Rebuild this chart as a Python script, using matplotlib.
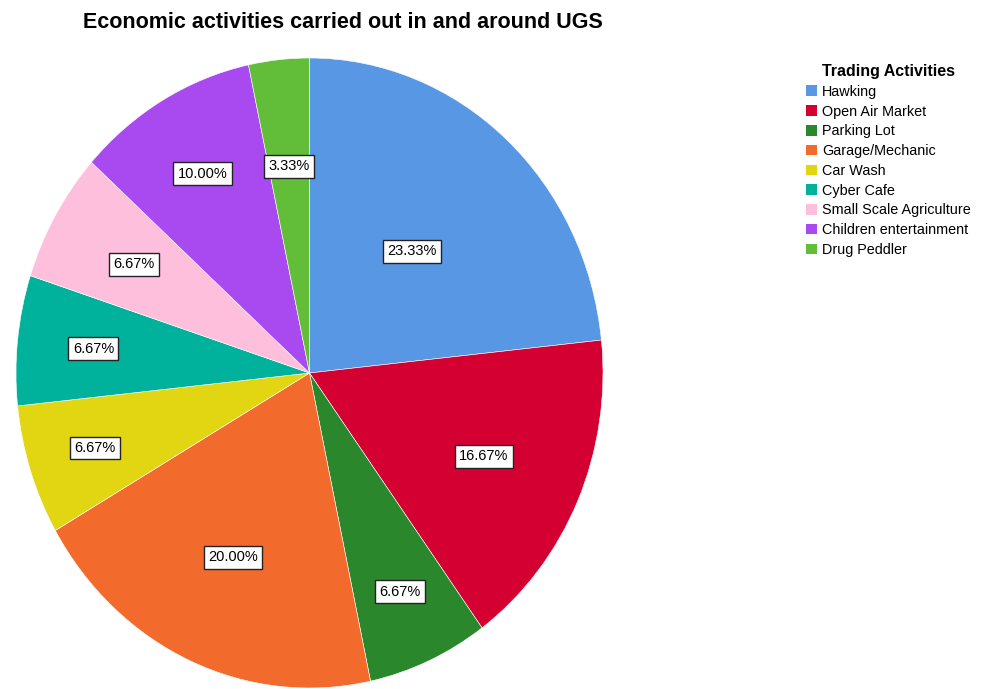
import numpy as np
import matplotlib
matplotlib.use("Agg")
import matplotlib.pyplot as plt

plt.rcParams["font.family"] = ["Liberation Sans", "DejaVu Sans"]

# ==========================================
# DATA
# ==========================================

activities = [
    "Hawking",
    "Open Air Market",
    "Parking Lot",
    "Garage/Mechanic",
    "Car Wash",
    "Cyber Cafe",
    "Small Scale Agriculture",
    "Children entertainment",
    "Drug Peddler",
]

counts = [7, 5, 2, 6, 2, 2, 2, 3, 1]

colors = [
    "#5797E3",
    "#D50032",
    "#2A872C",
    "#F26A2C",
    "#E2D512",
    "#00B29B",
    "#FEBFDD",
    "#A94AF0",
    "#62BE39",
]

# how far out each percentage box sits (fraction of radius)
label_radius = [0.52, 0.65, 0.76, 0.64, 0.77, 0.74, 0.69, 0.73, 0.66]

# ==========================================
# FIGURE
# ==========================================

W, H = 983, 689
fig = plt.figure(figsize=(W / 100, H / 100), dpi=100)

# pie occupies an ellipse: x 16..603, y 58..688 px
ax = fig.add_axes([
    16 / W,
    1 - 688 / H,
    (603 - 16) / W,
    (688 - 58) / H,
])

wedges, _ = ax.pie(
    counts,
    colors=colors,
    startangle=90,
    counterclock=False,
    wedgeprops=dict(linewidth=0.4, edgecolor="white"),
)

ax.set_aspect("auto")
ax.set_xlim(-1, 1)
ax.set_ylim(-1, 1)
ax.axis("off")

total = float(sum(counts))

for w, c, r in zip(wedges, counts, label_radius):
    mid = np.deg2rad((w.theta1 + w.theta2) / 2)
    ax.text(
        r * np.cos(mid),
        r * np.sin(mid),
        "%.2f%%" % (100 * c / total),
        ha="center",
        va="center",
        fontsize=10.5,
        bbox=dict(
            boxstyle="square,pad=0.3",
            facecolor="white",
            edgecolor="#222222",
            linewidth=1.0,
        ),
    )

# ==========================================
# TITLE
# ==========================================

fig.text(
    343 / W,
    1 - 22 / H,
    "Economic activities carried out in and around UGS",
    ha="center",
    va="center",
    fontsize=15.5,
    fontweight="bold",
)

# ==========================================
# LEGEND
# ==========================================

leg = fig.legend(
    wedges,
    activities,
    loc="upper left",
    bbox_to_anchor=(806 / W, 1 - 64 / H),
    frameon=False,
    fontsize=10.4,
    title="Trading Activities",
    title_fontproperties=dict(weight="bold", size=11.5),
    handlelength=0.75,
    handleheight=0.75,
    handletextpad=0.35,
    labelspacing=0.4,
    borderpad=0,
    borderaxespad=0,
)

for h in leg.legend_handles:
    h.set_linewidth(0)

fig.savefig("out.png", dpi=100)
plt.close()
